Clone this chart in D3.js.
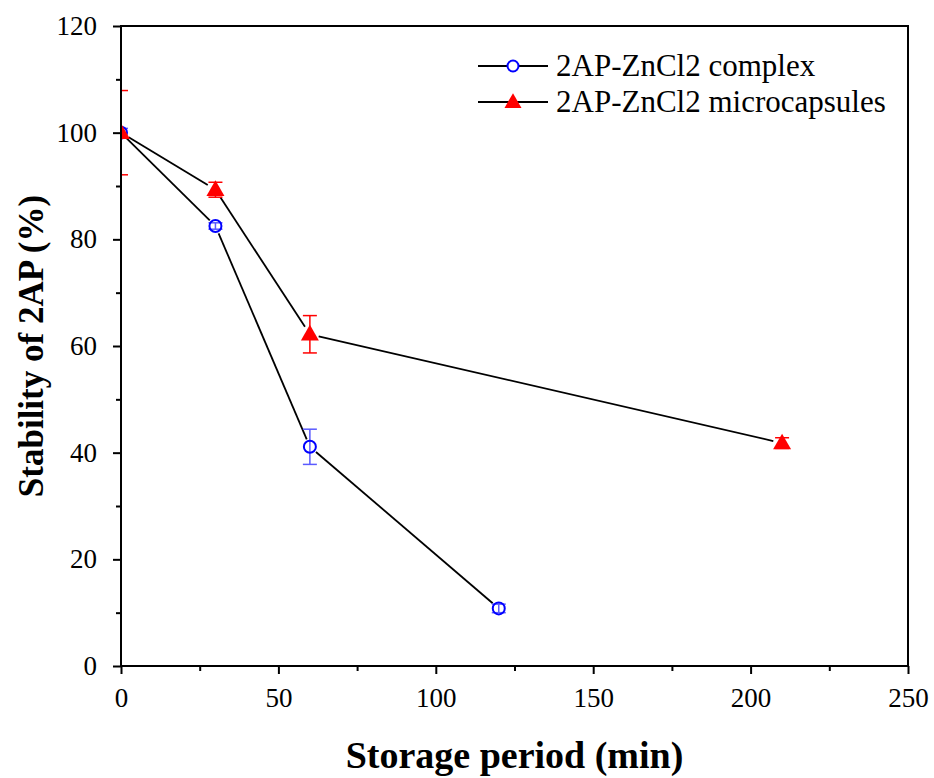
<!DOCTYPE html>
<html>
<head>
<meta charset="utf-8">
<script src="https://cdn.jsdelivr.net/npm/d3@7"></script>
<style>
  html, body { margin: 0; padding: 0; background: #fff; }
</style>
</head>
<body>
<svg id="chart" width="934" height="778"></svg>
<script>
// Storage period (min)
const complexTime = [0, 30, 60, 120];
const complexValue = [100, 82.5, 41.1, 10.8];
const complexError = [0.8, 0.6, 3.3, 0.8];

const capsuleTime = [0, 30, 60, 210];
const capsuleValue = [100, 89.3, 62.2, 41.8];
const capsuleError = [7.9, 1.4, 3.5, 1.0];

const seriesNames = ["2AP-ZnCl2 complex", "2AP-ZnCl2 microcapsules"];
const xTicks = [0, 50, 100, 150, 200, 250];
const yTicks = [0, 20, 40, 60, 80, 100, 120];

const FONT = "'Liberation Serif', 'Times New Roman', Times, serif";

const svg = d3.select("#chart");
const plotLeft = 121, plotRight = 908, plotTop = 26, plotBottom = 666;

const x = d3.scaleLinear().domain([0, 250]).range([plotLeft, plotRight]);
const y = d3.scaleLinear().domain([0, 120]).range([plotBottom, plotTop]);

svg.append("defs").append("clipPath").attr("id", "plotClip")
  .append("rect").attr("x", plotLeft).attr("y", plotTop)
  .attr("width", plotRight - plotLeft).attr("height", plotBottom - plotTop);

const plot = svg.append("g").attr("clip-path", "url(#plotClip)");

// Segments that stop short of the markers
function drawLine(xs, ys, gap) {
  for (let i = 0; i < xs.length - 1; i++) {
    const x1 = x(xs[i]), y1 = y(ys[i]), x2 = x(xs[i + 1]), y2 = y(ys[i + 1]);
    const dx = x2 - x1, dy = y2 - y1, len = Math.hypot(dx, dy);
    const ux = dx / len, uy = dy / len;
    plot.append("line")
      .attr("x1", x1 + ux * gap).attr("y1", y1 + uy * gap)
      .attr("x2", x2 - ux * gap).attr("y2", y2 - uy * gap)
      .attr("stroke", "#000").attr("stroke-width", 1.8);
  }
}

function drawErrors(xs, ys, es, color) {
  xs.forEach((t, i) => {
    const cx = x(t), hi = y(ys[i] + es[i]), lo = y(ys[i] - es[i]);
    const g = plot.append("g").attr("stroke", color).attr("stroke-width", 1.5).attr("fill", "none");
    g.append("line").attr("x1", cx).attr("x2", cx).attr("y1", hi).attr("y2", lo);
    g.append("line").attr("x1", cx - 7).attr("x2", cx + 7).attr("y1", hi).attr("y2", hi);
    g.append("line").attr("x1", cx - 7).attr("x2", cx + 7).attr("y1", lo).attr("y2", lo);
  });
}

const triangle = (cx, cy, s) => {
  const h = s * 0.87;
  return `M${cx},${cy - h * 0.6}L${cx + s / 2},${cy + h * 0.4}L${cx - s / 2},${cy + h * 0.4}Z`;
};

// Complex series
drawLine(complexTime, complexValue, 8);
drawErrors(complexTime, complexValue, complexError, "#5a5aff");
complexTime.forEach((t, i) => {
  plot.append("circle").attr("cx", x(t)).attr("cy", y(complexValue[i])).attr("r", 6)
    .attr("fill", "none").attr("stroke", "#0000ff").attr("stroke-width", 2);
});

// Microcapsule series
drawLine(capsuleTime, capsuleValue, 9);
drawErrors(capsuleTime, capsuleValue, capsuleError, "#ff0000");
capsuleTime.forEach((t, i) => {
  plot.append("path").attr("d", triangle(x(t), y(capsuleValue[i]), 18)).attr("fill", "#ff0000");
});

// Frame
svg.append("rect").attr("x", plotLeft).attr("y", plotTop)
  .attr("width", plotRight - plotLeft).attr("height", plotBottom - plotTop)
  .attr("fill", "none").attr("stroke", "#000").attr("stroke-width", 2);

// Axes
const xAxis = d3.axisBottom(x).tickValues(xTicks).tickSize(8).tickPadding(14).tickFormat(d3.format("d"));
const yAxis = d3.axisLeft(y).tickValues(yTicks).tickSize(8).tickPadding(16).tickFormat(d3.format("d"));

const gx = svg.append("g").attr("transform", `translate(0,${plotBottom})`).call(xAxis);
const gy = svg.append("g").attr("transform", `translate(${plotLeft},0)`).call(yAxis);

// Minor ticks
const gxm = svg.append("g").attr("transform", `translate(0,${plotBottom})`)
  .call(d3.axisBottom(x).tickValues(d3.range(25, 250, 50)).tickSize(5).tickFormat(""));
const gym = svg.append("g").attr("transform", `translate(${plotLeft},0)`)
  .call(d3.axisLeft(y).tickValues(d3.range(10, 120, 20)).tickSize(5).tickFormat(""));

[gx, gy, gxm, gym].forEach(g => {
  g.attr("font-family", FONT).attr("font-size", 27);
  g.select(".domain").remove();
  g.selectAll(".tick line").attr("stroke", "#000").attr("stroke-width", 2);
  g.selectAll("text").attr("fill", "#000");
});

// Axis titles
svg.append("text").attr("x", (plotLeft + plotRight) / 2).attr("y", 768).attr("text-anchor", "middle")
  .attr("font-family", FONT).attr("font-size", 38).attr("font-weight", "bold").text("Storage period (min)");
svg.append("text").attr("transform", `translate(43,${(plotTop + plotBottom) / 2}) rotate(-90)`)
  .attr("text-anchor", "middle").attr("font-family", FONT).attr("font-size", 35).attr("font-weight", "bold")
  .text("Stability of 2AP (%)");

// Legend
const legendRows = [
  { name: seriesNames[0], kind: "circle" },
  { name: seriesNames[1], kind: "triangle" }
];
legendRows.forEach((r, i) => {
  const ly = 66 + i * 36;
  const g = svg.append("g");
  g.append("line").attr("x1", 478).attr("x2", 548).attr("y1", ly).attr("y2", ly)
    .attr("stroke", "#000").attr("stroke-width", 1.8);
  if (r.kind === "circle") {
    g.append("circle").attr("cx", 513).attr("cy", ly).attr("r", 5.5)
      .attr("fill", "#fff").attr("stroke", "#0000ff").attr("stroke-width", 2);
  } else {
    g.append("path").attr("d", triangle(513, ly, 17)).attr("fill", "#ff0000");
  }
  g.append("text").attr("x", 556).attr("y", ly + 10).attr("font-family", FONT).attr("font-size", 31)
    .attr("fill", "#000").text(r.name);
});
</script>
</body>
</html>
